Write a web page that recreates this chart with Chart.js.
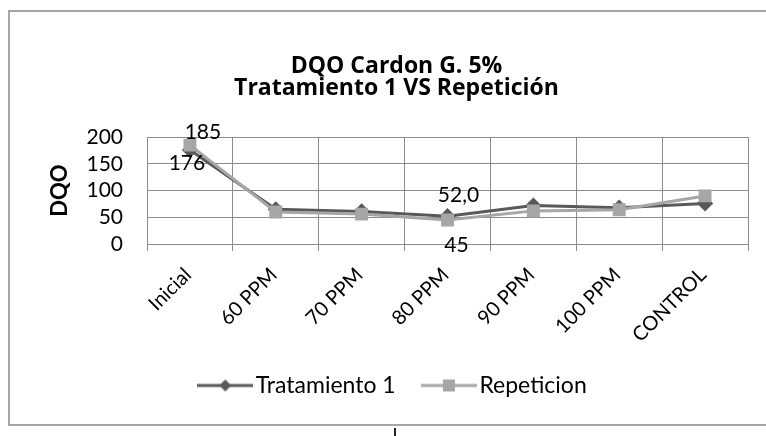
<!DOCTYPE html>
<html>
<head>
<meta charset="utf-8">
<script src="https://cdn.jsdelivr.net/npm/chart.js@4"></script>
<style>
  html, body { margin: 0; padding: 0; background: #fff; overflow: hidden; }
  body { width: 766px; height: 436px; position: relative; }
  #wrap { position: absolute; left: 0; top: 0; width: 790px; height: 436px; }
  #frame { position: absolute; left: 8px; top: 10px; width: 800px; height: 416px;
           box-sizing: border-box; border: 2px solid #a6a6a6; pointer-events: none; }
  #mark { position: absolute; left: 394px; top: 428px; width: 2px; height: 8px; background: #222; }
</style>
</head>
<body>
<div id="wrap"><canvas id="dqoChart" width="790" height="436"></canvas></div>
<div id="frame"></div>
<div id="mark"></div>
<script>
const categories = ["Inicial", "60 PPM", "70 PPM", "80 PPM", "90 PPM", "100 PPM", "CONTROL"];
const tratamiento1 = [176, 65, 61, 52, 72, 68, 76];
const repeticion = [185, 60, 56, 45, 62, 64, 90];
const yTicks = [0, 50, 100, 150, 200];
const tratLabels = ["176", null, null, "52,0", null, null, null];
const repLabels = ["185", null, null, "45", null, null, null];

const FONT = "Lato, 'Open Sans', sans-serif";
const darkGray = "#595959";
const lightGray = "#a6a6a6";

// legend swatch: line with marker in the middle
function swatch(color, shape) {
    const c = document.createElement("canvas");
    c.width = 56;
    c.height = 16;
    const ctx = c.getContext("2d");
    ctx.strokeStyle = color;
    ctx.lineWidth = 3;
    ctx.beginPath();
    ctx.moveTo(0, 8);
    ctx.lineTo(56, 8);
    ctx.stroke();
    ctx.fillStyle = color;
    ctx.beginPath();
    if (shape === "diamond") {
        ctx.moveTo(28, 2); ctx.lineTo(34, 8); ctx.lineTo(28, 14); ctx.lineTo(22, 8);
    } else {
        ctx.rect(22, 2, 12, 12);
    }
    ctx.closePath();
    ctx.fill();
    return c;
}

// value labels drawn next to some points
const pointLabels = {
    id: "pointLabels",
    afterDatasetsDraw(chart, args, opts) {
        const ctx = chart.ctx;
        ctx.save();
        ctx.font = "21px " + FONT;
        ctx.fillStyle = "#000";
        ctx.textAlign = "center";
        ctx.textBaseline = "middle";
        opts.sets.forEach(set => {
            const meta = chart.getDatasetMeta(set.dataset);
            set.labels.forEach((txt, i) => {
                if (txt === null) return;
                const pt = meta.data[i];
                const off = set.offsets[i];
                ctx.fillText(txt, pt.x + off[0], pt.y + off[1]);
            });
        });
        ctx.restore();
    }
};

const dqoChart = document.getElementById("dqoChart");

new Chart(dqoChart, {

    type: "line",

    data: {

        labels: categories,

        datasets: [{

            label: "Tratamiento 1",
            data: tratamiento1,
            borderColor: darkGray,
            backgroundColor: darkGray,
            borderWidth: 3,
            pointStyle: "rectRot",
            pointRadius: 6,
            pointHoverRadius: 6,
            tension: 0,
            order: 1

        }, {

            label: "Repeticion",
            data: repeticion,
            borderColor: lightGray,
            backgroundColor: lightGray,
            borderWidth: 3,
            pointStyle: "rect",
            pointRadius: 7,
            pointHoverRadius: 7,
            tension: 0,
            order: 0

        }]

    },

    options: {

        responsive: false,
        animation: false,

        layout: {
            padding: { top: 10, left: 45, right: 42, bottom: 29 }
        },

        scales: {

            x: {
                offset: true,
                grid: { offset: true, color: "#8c8c8c", lineWidth: 1, tickLength: 7 },
                border: { color: "#8c8c8c" },
                ticks: {
                    color: "#000",
                    font: { family: FONT, size: 20 },
                    minRotation: 45,
                    maxRotation: 45,
                    autoSkip: false,
                    padding: 12,
                    labelOffset: -2
                },
                afterFit(scale) { scale.height = 113; }
            },

            y: {
                min: 0,
                max: 200,
                afterBuildTicks(scale) { scale.ticks = yTicks.map(v => ({ value: v })); },
                grid: { color: "#8c8c8c", lineWidth: 1, drawTicks: false },
                border: { color: "#8c8c8c" },
                ticks: {
                    color: "#000",
                    font: { family: FONT, size: 21 },
                    autoSkip: false,
                    padding: 24
                },
                title: {
                    display: true,
                    text: "DQO",
                    color: "#000",
                    font: { family: FONT, size: 22, weight: "bold" },
                    padding: { top: 2, bottom: 0 }
                },
                afterFit(scale) { scale.width = 102; }
            }

        },

        plugins: {

            title: {
                display: true,
                text: ["DQO Cardon G. 5%", "Tratamiento 1 VS Repetición"],
                color: "#000",
                font: { family: "'Open Sans', sans-serif", size: 23, weight: "bold", lineHeight: 0.96 },
                padding: { top: 45, bottom: 38 }
            },

            legend: {
                position: "bottom",
                labels: {
                    color: "#000",
                    font: { family: FONT, size: 23 },
                    usePointStyle: true,
                    pointStyleWidth: 38,
                    padding: 17,
                    generateLabels() {
                        return [
                            { text: "Tratamiento 1\u2003", pointStyle: swatch(darkGray, "diamond"), fillStyle: darkGray, strokeStyle: darkGray, lineWidth: 0, datasetIndex: 0 },
                            { text: "Repeticion", pointStyle: swatch(lightGray, "square"), fillStyle: lightGray, strokeStyle: lightGray, lineWidth: 0, datasetIndex: 1 }
                        ];
                    }
                }
            },

            tooltip: { enabled: false },

            pointLabels: {
                sets: [
                    { dataset: 0, labels: tratLabels, offsets: [[-3, 13], null, null, [11, -21], null, null, null] },
                    { dataset: 1, labels: repLabels, offsets: [[13, -13], null, null, [9, 25], null, null, null] }
                ]
            }

        }

    },

    plugins: [pointLabels]

});
</script>
</body>
</html>
